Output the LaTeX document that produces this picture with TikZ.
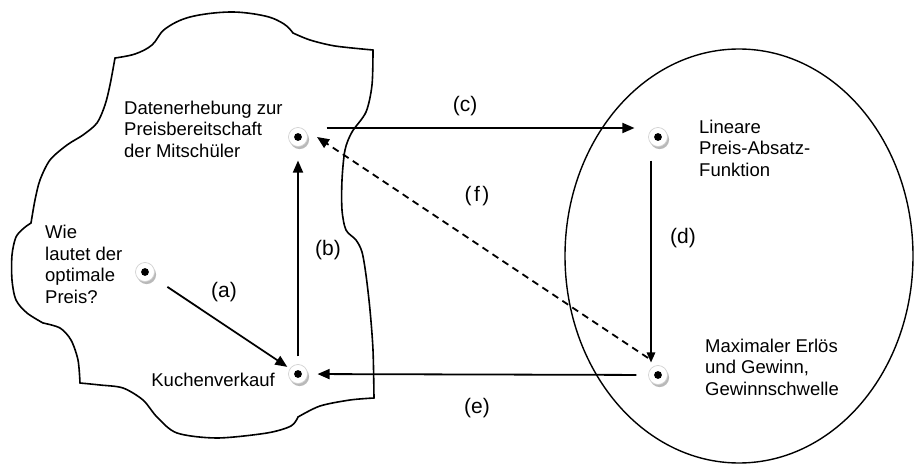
\documentclass[tikz,border=0pt]{standalone}
\usepackage{fontspec}
\setmainfont{Liberation Sans}
\usetikzlibrary{arrows.meta,shadows,calc}
\begin{document}
\begin{tikzpicture}[x=1pt,y=-1pt,
  dotnode/.style={circle, minimum size=19pt, inner sep=0pt, fill=white, draw=gray!35, line width=0.7pt,
    drop shadow={shadow xshift=1.6pt, shadow yshift=-2.6pt, fill=gray!55, opacity=1},
    path picture={\fill[black] (path picture bounding box.center) circle (3.9pt);}},
  txt/.style={font=\fontsize{18.5}{21.7}\selectfont, align=left, inner sep=0pt, anchor=north west},
  lbl/.style={font=\fontsize{21}{24}\selectfont, inner sep=0pt},
  conn/.style={line width=1.8pt, -{Triangle[length=12pt,width=10pt]}},
  outline/.style={line width=1.6pt, line join=round, line cap=round}
]
\useasboundingbox (0,0) rectangle (914,465);

% cloud outline
\draw[outline] plot[smooth, tension=0.6] coordinates {(115,58) (135,54) (152,45) (165,29) (190,17) (230,12) (265,16) (284,24) (293,33)};
\draw[outline] plot[smooth] coordinates {(293,33) (310,40) (335,46) (373,50)};
\draw[outline] plot[smooth] coordinates {(373,50) (372,85) (366,112) (352,132) (345,150) (342,180) (342,210) (346,230) (356,240) (362,252) (366,275) (370,310) (373,350) (374,398)};
\draw[outline] plot[smooth] coordinates {(374,398) (350,400) (320,406) (298,417)};
\draw[outline] plot[smooth] coordinates {(298,417) (291,426) (267,433) (217,438) (177,433) (157,417) (143,400) (123,388) (100,385) (80,383)};
\draw[outline] plot[smooth] coordinates {(80,383) (78,360) (71,340) (60,328) (43,323)};
\draw[outline] plot[smooth] coordinates {(43,323) (27,313) (16,300) (12,280) (12,255) (16,237) (24,228) (31,223)};
\draw[outline] plot[smooth] coordinates {(31,223) (35,200) (40,180) (50,160) (67,145) (83,135) (97,123) (105,105) (110,85) (115,58)};

% ellipse
\draw[line width=1.4pt] (739,256) ellipse [x radius=174, y radius=207];

% dots
\node[dotnode] (p1) at (145,272) {};
\node[dotnode] (p2) at (298,137) {};
\node[dotnode] (p3) at (298,374) {};
\node[dotnode] (p4) at (658,137) {};
\node[dotnode] (p5) at (658,375) {};

% texts
\node[txt] (t2) at (124,100.5) {Datenerhebung zur\\Preisbereitschaft\\der Mitschüler};
\node[txt] (t1) at (45,224.8) {Wie\\lautet der\\optimale\\Preis?};
\node[txt, anchor=base east] (t3) at (275,387) {Kuchenverkauf};
\node[txt] (t4) at (699,119.5) {Lineare\\Preis-Absatz-\\Funktion};
\node[txt] (t5) at (705,338.5) {Maximaler Erlös\\und Gewinn,\\Gewinnschwelle};

% connectors
\draw[conn, shorten <=17pt, shorten >=3pt] (p1) -- (p3);
\draw[conn, shorten <=7.7pt, shorten >=13.7pt] (p3) -- (p2);
\draw[conn, shorten <=18.7pt, shorten >=13.7pt] ([yshift=9pt]p2.east) -- ([yshift=9pt]p4.west);
\draw[conn, line width=1.5pt, -{Triangle[length=10pt,width=8.5pt]}, shorten <=13.7pt, shorten >=2.7pt] ([xshift=-7pt]p4.south) -- ([xshift=-7pt]p5.north);
\draw[conn, shorten <=11.7pt, shorten >=9.7pt] (p5) -- (p3);
\draw[conn, dash pattern=on 7pt off 5pt] ($(p5.center)+(-10,-17)$) -- ($(p2.center)+(19,0)$);

% labels
\node[lbl] (la) at (224,292) {(a)};
\node[lbl] (lb) at (328,250) {(b)};
\node[lbl] (lc) at (465,106) {(c)};
\node[lbl] (ld) at (683,238) {(d)};
\node[lbl] (le) at (477,408) {(e)};
\node[lbl] (lf) at (477,196) {(\hspace{2.5pt}f\hspace{2.5pt})};
\end{tikzpicture}
\end{document}
